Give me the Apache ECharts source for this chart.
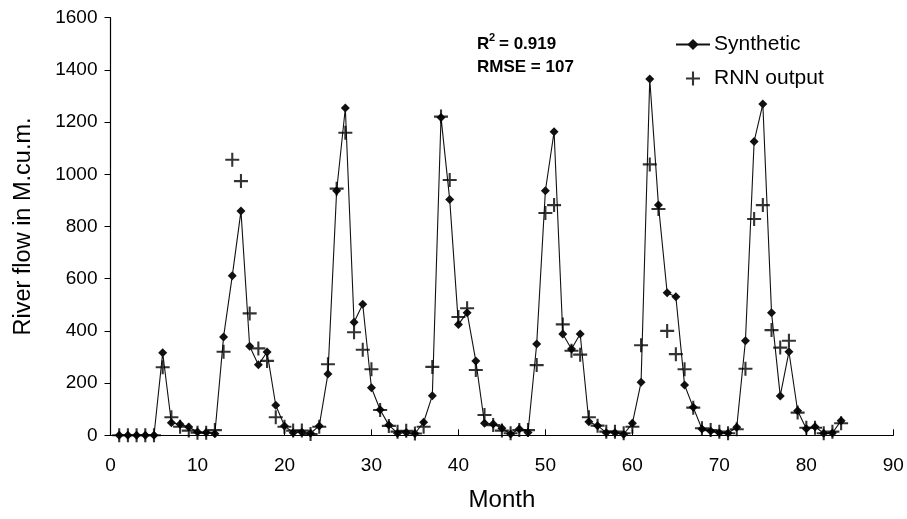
<!DOCTYPE html>
<html>
<head>
<meta charset="utf-8">
<script src="https://cdn.jsdelivr.net/npm/echarts@6/dist/echarts.min.js"></script>
<style>
  html, body { margin: 0; padding: 0; background: #fff; }
  #chart { width: 907px; height: 519px; }
</style>
</head>
<body>
<div id="chart"></div>
<script>
// Monthly river flow (M.cu.m.), months 1..84
const firstMonth = 1;
const synthetic = [
  0, 0, 0, 0, 0, 316, 48, 42, 32, 13, 11, 6,
  377, 611, 859, 341, 270, 319, 115, 36, 10, 12, 8, 36,
  235, 937, 1254, 433, 502, 182, 98, 39, 8, 11, 7, 50,
  152, 1218, 903, 425, 470, 285, 46, 43, 27, 5, 24, 11,
  350, 937, 1163, 388, 331, 388, 52, 37, 10, 10, 4, 46,
  203, 1365, 882, 546, 531, 193, 107, 24, 16, 10, 9, 31,
  362, 1126, 1269, 470, 151, 320, 94, 25, 33, 8, 9, 56
];
const rnnOutput = [
  0, 0, 0, 0, 0, 261, 69, 33, 18, 10, 10, 20,
  320, 1056, 974, 467, 333, 285, 69, 33, 18, 18, 5, 33,
  272, 945, 1159, 395, 328, 253, 97, 36, 14, 17, 7, 33,
  262, 1221, 978, 453, 487, 250, 78, 39, 18, 8, 20, 20,
  269, 852, 882, 425, 324, 309, 69, 37, 14, 14, 8, 33,
  345, 1038, 867, 400, 311, 253, 106, 27, 20, 14, 8, 23,
  255, 829, 882, 403, 336, 362, 87, 29, 29, 8, 14, 46
];
const xTicks = { min: 0, max: 90, step: 10 };
const yTicks = { min: 0, max: 1600, step: 200 };
const statsR2 = '0.919';
const statsRMSE = '107';

const pairs = arr => arr.map((v, i) => [firstMonth + i, v]);
const FONT = '"Liberation Sans", Arial, Helvetica, sans-serif';
const plusPath = 'path://M4.25,0h1.5v4.25h4.25v1.5h-4.25v4.25h-1.5v-4.25h-4.25v-1.5h4.25z';
const boldText = (x, y, text, size) => ({
  type: 'text', x: x, y: y,
  style: { text: text, fill: '#000', font: 'bold ' + size + 'px ' + FONT, textVerticalAlign: 'middle' }
});

const chart = echarts.init(document.getElementById('chart'), null, { renderer: 'canvas' });
chart.setOption({
  animation: false,
  backgroundColor: '#fff',
  textStyle: { fontFamily: FONT, color: '#000' },
  grid: { left: 110.5, right: 13.7, top: 17.7, bottom: 83.7, containLabel: false },
  legend: {
    orient: 'vertical',
    left: 675,
    top: 34,
    padding: 0,
    itemWidth: 34,
    itemHeight: 14,
    itemGap: 13,
    textStyle: { fontFamily: FONT, fontSize: 21, color: '#000', padding: [0, 0, 0, -1] },
    data: [
      { name: 'Synthetic' },
      { name: 'RNN output' }
    ]
  },
  xAxis: {
    type: 'value',
    min: xTicks.min,
    max: xTicks.max,
    interval: xTicks.step,
    name: 'Month',
    nameLocation: 'middle',
    nameGap: 53,
    nameTextStyle: { fontFamily: FONT, fontSize: 24, color: '#000' },
    axisLine: { onZero: false, lineStyle: { color: '#000', width: 1.2 } },
    axisTick: { inside: true, length: 6, lineStyle: { color: '#000', width: 1 } },
    axisLabel: { fontFamily: FONT, fontSize: 19, color: '#000', margin: 21 },
    splitLine: { show: false }
  },
  yAxis: {
    type: 'value',
    min: yTicks.min,
    max: yTicks.max,
    interval: yTicks.step,
    name: 'River flow in M.cu.m.',
    nameLocation: 'middle',
    nameGap: 75,
    nameTextStyle: { fontFamily: FONT, fontSize: 23.5, color: '#000' },
    axisLine: { show: true, lineStyle: { color: '#000', width: 1.2 } },
    axisTick: { show: true, inside: false, length: 6, lineStyle: { color: '#000', width: 1 } },
    axisLabel: { fontFamily: FONT, fontSize: 19, color: '#000', margin: 13, formatter: v => String(v) },
    splitLine: { show: false }
  },
  graphic: [
    boldText(477, 44, 'R', 17),
    boldText(489, 37.5, '2', 11),
    boldText(499, 44, '= ' + statsR2, 17),
    boldText(477, 67, 'RMSE = ' + statsRMSE, 17)
  ],
  series: [
    {
      name: 'Synthetic',
      type: 'line',
      data: pairs(synthetic),
      symbol: 'diamond',
      symbolSize: 9,
      showAllSymbol: true,
      lineStyle: { color: '#111', width: 1.1 },
      itemStyle: { color: '#111' },
      z: 2
    },
    {
      name: 'RNN output',
      type: 'scatter',
      data: pairs(rnnOutput),
      symbol: plusPath,
      symbolSize: 14,
      itemStyle: { color: '#000' },
      z: 3
    }
  ]
});
</script>
</body>
</html>
